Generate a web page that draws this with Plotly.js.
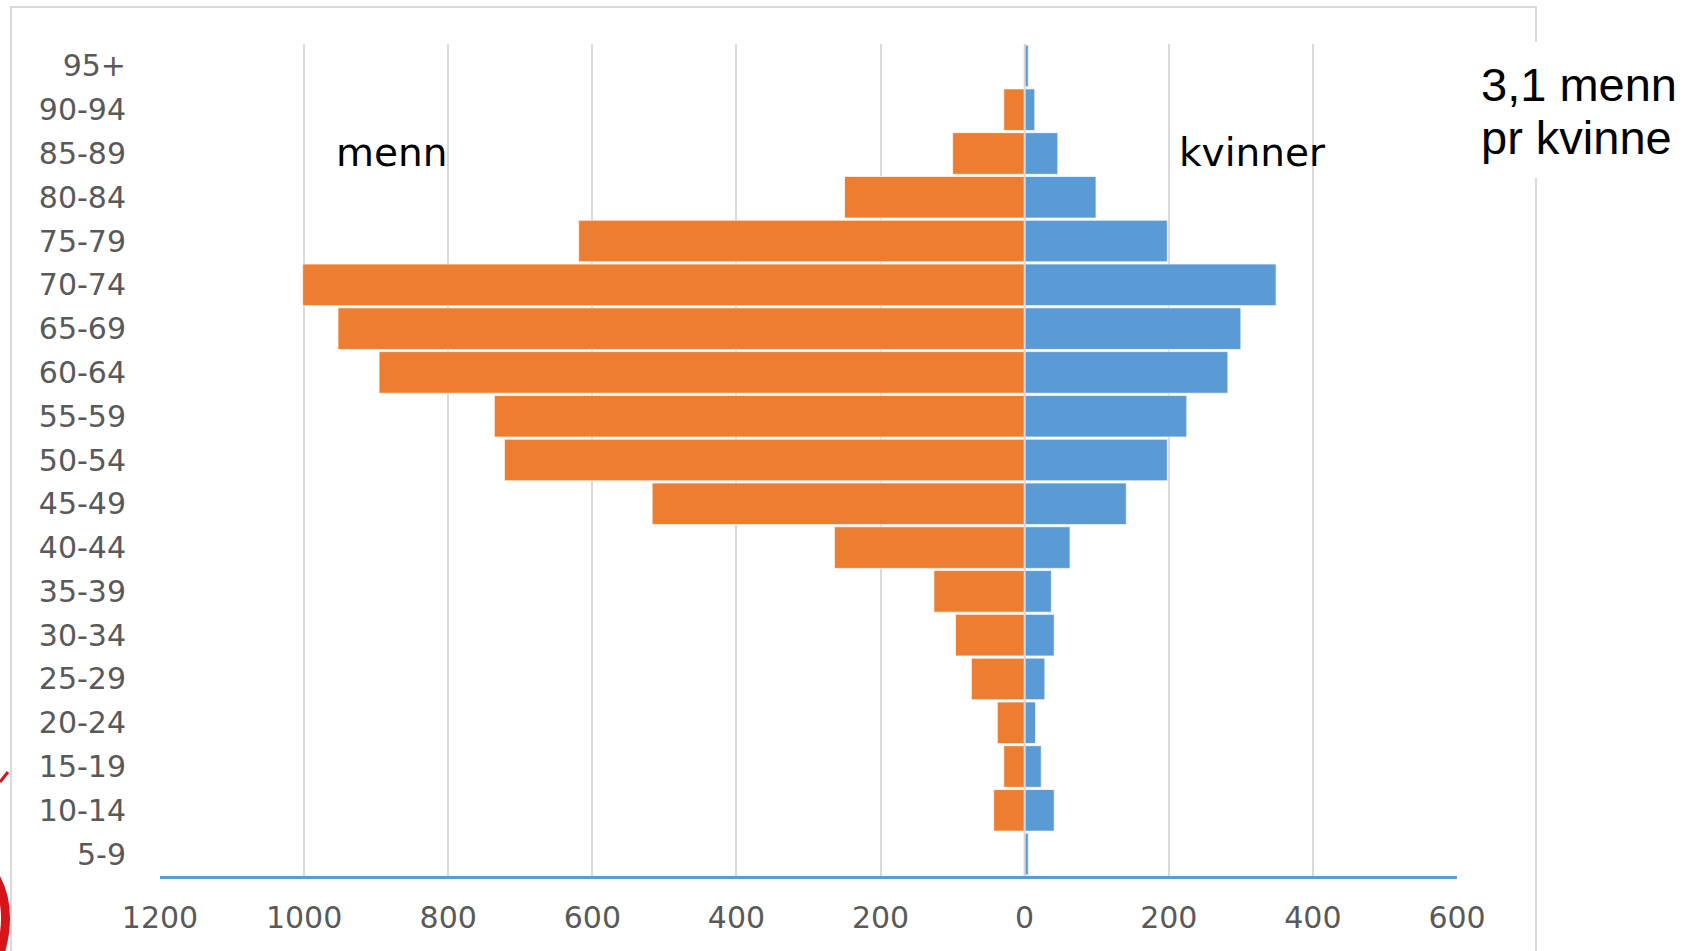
<!DOCTYPE html>
<html>
<head>
<meta charset="utf-8">
<script src="https://cdn.plot.ly/plotly-3.0.1.min.js"></script>
<style>
  html, body { margin: 0; padding: 0; background: #ffffff; }
  #chart { width: 1692px; height: 951px; }
</style>
</head>
<body>
<div id="chart"></div>
<script>
// Age groups (bottom to top)
const ageGroups = ['5-9','10-14','15-19','20-24','25-29','30-34','35-39','40-44','45-49','50-54','55-59','60-64','65-69','70-74','75-79','80-84','85-89','90-94','95+'];
// Men (menn) counts per age group
const menn = [1, 43, 29, 38, 74, 96, 126, 264, 517, 722, 736, 896, 953, 1002, 619, 250, 100, 29, 0];
// Women (kvinner) counts per age group
const kvinner = [5, 41, 23, 15, 28, 41, 37, 63, 141, 198, 225, 282, 300, 349, 198, 99, 46, 14, 5];
// x-axis ticks
const xTickVals = [-1200, -1000, -800, -600, -400, -200, 0, 200, 400, 600];
const xTickText = ['1200', '1000', '800', '600', '400', '200', '0', '200', '400', '600'];

const W = 1692, H = 951;
const M = { l: 160, r: 235, t: 44, b: 75 };
const PW = W - M.l - M.r, PH = H - M.t - M.b;
const px = x => (x - M.l) / PW;
const py = y => (H - M.b - y) / PH;

const traces = [
  {
    type: 'bar', orientation: 'h', name: 'menn',
    y: ageGroups, x: menn.map(v => -v),
    customdata: menn,
    hovertemplate: '%{y}: %{customdata}<extra>menn</extra>',
    marker: { color: '#ED7D31', line: { color: 'rgba(255,255,255,0.7)', width: 1 } }
  },
  {
    type: 'bar', orientation: 'h', name: 'kvinner',
    y: ageGroups, x: kvinner,
    hovertemplate: '%{y}: %{x}<extra>kvinner</extra>',
    marker: { color: '#5B9BD5', line: { color: 'rgba(255,255,255,0.7)', width: 1 } }
  }
];

const layout = {
  width: W, height: H,
  margin: M,
  paper_bgcolor: '#ffffff', plot_bgcolor: '#ffffff',
  barmode: 'relative',
  bargap: 0.05,
  showlegend: false,
  xaxis: {
    range: [-1200, 600],
    tickvals: xTickVals, ticktext: xTickText,
    tickfont: { family: 'DejaVu Sans, sans-serif', size: 30, color: '#595959' },
    showgrid: true, gridcolor: '#D9D9D9', gridwidth: 2,
    zeroline: false,
    showline: true, linecolor: '#5B9BD5', linewidth: 3,
    ticks: 'outside', ticklen: 13, tickcolor: 'rgba(0,0,0,0)',
    fixedrange: true
  },
  yaxis: {
    type: 'category',
    categoryorder: 'array', categoryarray: ageGroups,
    tickfont: { family: 'DejaVu Sans, sans-serif', size: 30, color: '#595959' },
    showgrid: false, zeroline: false, showline: false,
    ticks: 'outside', ticklen: 27, tickcolor: 'rgba(0,0,0,0)',
    fixedrange: true
  },
  shapes: [
    // outer chart border
    { type: 'rect', xref: 'paper', yref: 'paper', layer: 'below',
      x0: px(11), x1: px(1536), y0: py(975), y1: py(7),
      line: { color: '#D9D9D9', width: 2 }, fillcolor: 'rgba(0,0,0,0)' },
    // white text box behind the ratio note
    { type: 'rect', xref: 'paper', yref: 'paper', layer: 'above',
      x0: px(1470), x1: px(1700), y0: py(178), y1: py(42),
      line: { width: 0 }, fillcolor: '#ffffff' },
    // zero line between the two sides
    { type: 'line', xref: 'x', yref: 'paper', layer: 'above',
      x0: 0, x1: 0, y0: 0, y1: 1,
      line: { color: '#D9D9D9', width: 2 } },
    // partial red logo at bottom-left edge
    { type: 'path', xref: 'paper', yref: 'paper', layer: 'above',
      path: 'M ' + px(-4) + ',' + py(878) + ' Q ' + px(14) + ',' + py(912) + ' ' + px(-2) + ',' + py(960),
      line: { color: '#D7141A', width: 9 } },
    { type: 'line', xref: 'paper', yref: 'paper', layer: 'above',
      x0: px(0), y0: py(782), x1: px(8), y1: py(772),
      line: { color: '#D7141A', width: 3 } }
  ],
  annotations: [
    { xref: 'paper', yref: 'paper', x: px(391), y: py(152), xanchor: 'center', yanchor: 'middle',
      text: 'menn', showarrow: false,
      font: { family: 'DejaVu Sans, sans-serif', size: 39, color: '#000000' } },
    { xref: 'paper', yref: 'paper', x: px(1252), y: py(152), xanchor: 'center', yanchor: 'middle',
      text: 'kvinner', showarrow: false,
      font: { family: 'DejaVu Sans, sans-serif', size: 39, color: '#000000' } },
    { xref: 'paper', yref: 'paper', x: px(1479), y: py(84), xanchor: 'left', yanchor: 'middle',
      text: '3,1 menn', showarrow: false,
      font: { family: 'Liberation Sans, Arial, sans-serif', size: 47, color: '#000000' } },
    { xref: 'paper', yref: 'paper', x: px(1479), y: py(137), xanchor: 'left', yanchor: 'middle',
      text: 'pr kvinne', showarrow: false,
      font: { family: 'Liberation Sans, Arial, sans-serif', size: 47, color: '#000000' } }
  ]
};

Plotly.newPlot('chart', traces, layout, { displayModeBar: false, staticPlot: false });
</script>
</body>
</html>
